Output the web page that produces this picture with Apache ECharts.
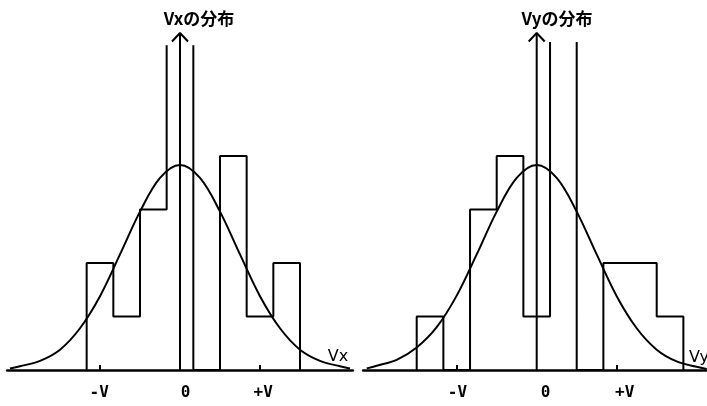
<!DOCTYPE html>
<html>
<head>
<meta charset="utf-8">
<script src="https://cdn.jsdelivr.net/npm/echarts@6/dist/echarts.min.js"></script>
<style>html,body{margin:0;padding:0;background:#fff;}#c{width:707px;height:406px;}</style>
</head>
<body>
<div id="c"></div>
<script>
// ---- data (x in units of V, y in counts) ----
const vxEdges = [-1.1667, -0.8333, -0.5, -0.1667, 0.1667, 0.5, 0.8333, 1.1667, 1.5];
const vxCounts = [2, 1, 3, 7, 0, 4, 1, 2];
const vyEdges = [-1.5, -1.1667, -0.8333, -0.5, -0.1667, 0.1667, 0.5, 0.8333, 1.1667, 1.5, 1.8333];
const vyCounts = [1, 0, 3, 4, 1, 7, 0, 2, 2, 1];
const curveX = [-2.125, -2.0, -1.75, -1.5, -1.25, -1.0, -0.75, -0.5, -0.25, 0, 0.25, 0.5, 0.75, 1.0, 1.25, 1.5, 1.75, 2.0, 2.125];
const vxCurveY = [0.03, 0.07, 0.17, 0.38, 0.78, 1.38, 2.16, 2.96, 3.59, 3.83, 3.59, 2.96, 2.16, 1.38, 0.78, 0.38, 0.17, 0.07, 0.03];
const vyCurveY = [0.03, 0.08, 0.19, 0.42, 0.80, 1.39, 2.16, 2.96, 3.59, 3.83, 3.59, 2.96, 2.16, 1.38, 0.78, 0.38, 0.16, 0.06, 0.02];
const tickLabels = ['-V', '0', '+V'];
const titles = ['Vxの分布', 'Vyの分布'];
const axisNames = ['Vx', 'Vy'];

// ---- layout ----
const PXV = 80, PXC = 53.5, BASE = 370;
const panels = [
  {xmin: -2.16, xmax: 2.16, ymax: 6.05, center: 180, labelAt: [-1.01, 0.07, 1.04]},
  {xmin: -2.17, xmax: 2.12, ymax: 6.11, center: 536.7, labelAt: [-0.99, 0.11, 1.1]}
];

function outline(edges, counts) {
  const pts = [[edges[0], 0]];
  counts.forEach((c, i) => { pts.push([edges[i], c]); pts.push([edges[i + 1], c]); });
  pts.push([edges[edges.length - 1], 0]);
  return pts;
}
function zip(xs, ys) { return xs.map((x, i) => [x, ys[i]]); }

const grids = [], xAxes = [], yAxes = [], series = [];
const hist = [outline(vxEdges, vxCounts), outline(vyEdges, vyCounts)];
const curves = [zip(curveX, vxCurveY), zip(curveX, vyCurveY)];
const black = '#000';
const arrowTop = 6.3;

panels.forEach((p, i) => {
  const left = p.center + p.xmin * PXV;
  const width = (p.xmax - p.xmin) * PXV;
  const height = p.ymax * PXC;
  grids.push({left: left, width: width, top: BASE - height, height: height});
  xAxes.push({
    type: 'value', gridIndex: i, min: p.xmin, max: p.xmax,
    axisLine: {lineStyle: {color: black, width: 2.5}},
    splitLine: {show: false},
    axisTick: {show: true, customValues: [-1, 1], inside: true, length: 5, lineStyle: {color: black, width: 2}},
    axisLabel: {
      customValues: p.labelAt,
      formatter: (v) => {
        const idx = p.labelAt.findIndex(a => Math.abs(a - v) < 1e-6);
        return idx >= 0 ? tickLabels[idx] : '';
      },
      margin: 15, color: black, fontFamily: 'DejaVu Sans Mono', fontWeight: 'bold', fontSize: 16
    }
  });
  yAxes.push({type: 'value', gridIndex: i, min: 0, max: p.ymax, show: false});
  const common = {xAxisIndex: i, yAxisIndex: i, symbol: 'none', silent: true, animation: false};
  series.push(Object.assign({type: 'line', data: hist[i], lineStyle: {color: black, width: 2}, clip: true}, common));
  series.push(Object.assign({type: 'line', data: curves[i], smooth: 0.35, lineStyle: {color: black, width: 2}, clip: true}, common));
  series.push(Object.assign({type: 'line', data: [[0, 0], [0, arrowTop]], lineStyle: {color: black, width: 2}, clip: false}, common));
  series.push(Object.assign({type: 'line', data: [[-0.1, arrowTop - 0.16], [0, arrowTop], [0.1, arrowTop - 0.16]], lineStyle: {color: black, width: 2}, clip: false}, common));
});

const chart = echarts.init(document.getElementById('c'), null, {renderer: 'canvas'});
chart.setOption({
  backgroundColor: '#fff',
  animation: false,
  grid: grids, xAxis: xAxes, yAxis: yAxes, series: series,
  graphic: [
    {type: 'text', x: 199, y: 19, style: {text: titles[0], fill: black, font: 'bold 17px "Noto Sans CJK JP"', textAlign: 'center', textVerticalAlign: 'middle'}},
    {type: 'text', x: 557, y: 19, style: {text: titles[1], fill: black, font: 'bold 17px "Noto Sans CJK JP"', textAlign: 'center', textVerticalAlign: 'middle'}},
    {type: 'text', x: 338, y: 357, style: {text: axisNames[0], fill: black, font: '16px "DejaVu Sans"', textAlign: 'center', textVerticalAlign: 'middle'}},
    {type: 'text', x: 689, y: 358, style: {text: axisNames[1], fill: black, font: '16px "DejaVu Sans"', textAlign: 'left', textVerticalAlign: 'middle'}}
  ]
});
</script>
</body>
</html>
